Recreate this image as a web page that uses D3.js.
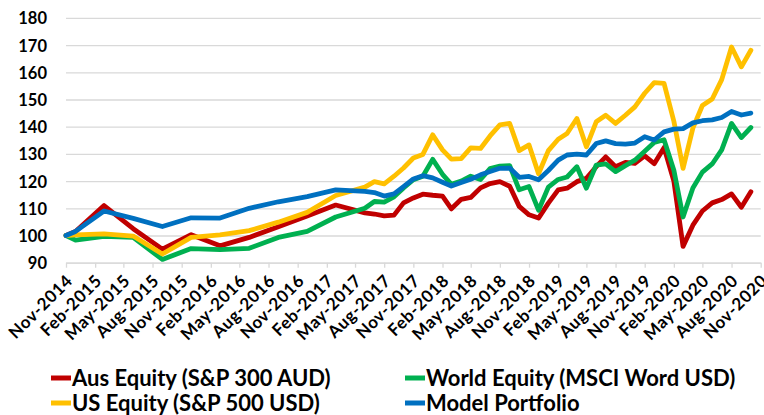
<!doctype html>
<html lang="en">
<head>
	<meta charset="UTF-8">
	<title>Model Portfolio vs Equity Indices</title>
	<script src="https://cdn.jsdelivr.net/npm/d3@7"></script>
	<style type="text/css">
	body{
		margin: 0;
		background: #fff;
	}
	svg text{
		font-family: Lato, 'Open Sans', sans-serif;
		font-weight: bold;
		fill: #000;
	}
	</style>
</head>
<body>
	<script type="text/javascript">
		// quarter ends first, monthly from Jul-2017
		var dates = ["Nov-2014","Dec-2014","Mar-2015","Jun-2015","Sep-2015","Dec-2015","Mar-2016","Jun-2016",
			"Sep-2016","Dec-2016","Mar-2017","Jun-2017","Jul-2017","Aug-2017","Sep-2017","Oct-2017","Nov-2017",
			"Dec-2017","Jan-2018","Feb-2018","Mar-2018","Apr-2018","May-2018","Jun-2018","Jul-2018","Aug-2018",
			"Sep-2018","Oct-2018","Nov-2018","Dec-2018","Jan-2019","Feb-2019","Mar-2019","Apr-2019","May-2019",
			"Jun-2019","Jul-2019","Aug-2019","Sep-2019","Oct-2019","Nov-2019","Dec-2019","Jan-2020","Feb-2020",
			"Mar-2020","Apr-2020","May-2020","Jun-2020","Jul-2020","Aug-2020","Sep-2020","Oct-2020"];
		var ausEquity = [100,101.5,111,102.5,95,100.3,96.2,99.3,103.2,107.2,111.2,108.3,107.9,107.2,107.5,112,113.8,
			115.2,114.8,114.5,109.8,113.3,114,117.5,119.1,119.8,118.1,110.7,107.6,106.4,111.9,116.8,117.4,119.8,121,
			125.3,128.9,125.3,126.9,126.5,129.3,126.4,132.3,120,96,103.8,109,112,113.2,115.3,110.4,116.1];
		var worldEquity = [100,98.3,99.7,99.3,91.2,95.2,94.8,95.3,99.3,101.5,106.8,110,112.5,112.3,114.2,117.5,120.5,
			121.8,128,122.5,118.8,120,121.8,120.6,124.6,125.5,125.7,116.8,118,109.3,117.8,120.6,121.5,125.3,117.4,
			125.9,126.3,123.5,125.7,127.7,131,134.2,135.2,124,106.8,117.5,123.3,126.3,131.5,141.2,136,139.7];
		var usEquity = [100,100.2,100.6,99.8,93.2,99.3,100.2,101.8,104.9,108.5,114.7,117.8,119.8,119,121.8,124.8,128.5,
			129.8,137,131.5,128.1,128.3,132.2,132,136.6,140.7,141.2,131.2,133.3,122.7,131.2,135.4,137.5,143,132.6,
			141.8,144.2,141.2,144.2,147.3,152.3,156.2,155.9,142,124.7,139.5,147.8,150.2,157.3,169.3,162,168.1];
		var modelPortfolio = [100,101.5,109,106.3,103.3,106.5,106.4,110,112.4,114.3,116.8,116.2,115.8,114.5,115.3,118,
			120.8,122,121.2,119.6,118.2,119.5,120.7,122.3,123.5,124.7,124.8,121.4,121.7,120.5,123.9,127.7,129.6,129.9,
			129.6,133.8,134.8,133.8,133.6,134,136.3,135.1,138.1,139.1,139.3,141.4,142.2,142.5,143.4,145.6,144.3,145];

		var seriesNames = ["Aus Equity (S&P 300 AUD)", "World Equity (MSCI Word USD)", "US Equity (S&P 500 USD)", "Model Portfolio"];
		var seriesColors = ["#c00000", "#00b050", "#ffc000", "#0070c0"];
		var yTicks = [90, 100, 110, 120, 130, 140, 150, 160, 170, 180];
		var xTickLabels = ["Nov-2014","Feb-2015","May-2015","Aug-2015","Nov-2015","Feb-2016","May-2016","Aug-2016",
			"Nov-2016","Feb-2017","May-2017","Aug-2017","Nov-2017","Feb-2018","May-2018","Aug-2018","Nov-2018",
			"Feb-2019","May-2019","Aug-2019","Nov-2019","Feb-2020","May-2020","Aug-2020","Nov-2020"];

		var w = 764;
		var h = 415;
		var plotLeft = 66, plotRight = 760.7, plotTop = 17.9, plotBottom = 262.7;
		var parse = d3.utcParse("%b-%Y");

		var svg = d3.select('body')
					.append('svg')
					.attr('width', w)
					.attr('height', h);

		var x = d3.scaleUtc()
				  .domain([parse(xTickLabels[0]), parse(xTickLabels[xTickLabels.length - 1])])
				  .range([plotLeft, plotRight]);
		var y = d3.scaleLinear()
				  .domain([yTicks[0], yTicks[yTicks.length - 1]])
				  .range([plotBottom, plotTop]);

		// gridlines
		svg.append('g')
		   .attr('transform', 'translate(' + plotLeft + ',0)')
		   .call(d3.axisLeft(y).tickValues(yTicks).tickSize(-(plotRight - plotLeft)).tickFormat(''))
		   .call(function(g){
		   		g.select('.domain').remove();
		   		g.selectAll('line').attr('stroke', '#d9d9d9').attr('stroke-width', 1.3);
		   });

		// y labels
		svg.append('g')
		   .attr('transform', 'translate(' + (plotLeft - 19) + ',0)')
		   .call(d3.axisLeft(y).tickValues(yTicks).tickSize(0))
		   .call(function(g){
		   		g.select('.domain').remove();
		   		g.selectAll('text').attr('font-size', '16.5px').attr('x', 0).attr('dy', '0.36em');
		   });

		// x axis
		svg.append('g')
		   .attr('transform', 'translate(0,' + plotBottom + ')')
		   .call(d3.axisBottom(x)
		   		.tickValues(xTickLabels.map(function(d){ return parse(d); }))
		   		.tickFormat(d3.utcFormat('%b-%Y'))
		   		.tickSize(5)
		   		.tickSizeOuter(0))
		   .call(function(g){
		   		g.select('.domain').attr('stroke', '#d9d9d9').attr('stroke-width', 1.3);
		   		g.selectAll('line').attr('stroke', '#d9d9d9').attr('stroke-width', 1.3);
		   		g.selectAll('text')
		   		 .attr('font-size', '17px')
		   		 .attr('letter-spacing', '0.6px')
		   		 .attr('text-anchor', 'end')
		   		 .attr('y', 0)
		   		 .attr('dy', '0.35em')
		   		 .attr('transform', 'translate(3,15) rotate(-45)');
		   });

		var valuesList = [ausEquity, worldEquity, usEquity, modelPortfolio];
		var series = seriesNames.map(function(name, i){
			return {
				name: name,
				color: seriesColors[i],
				points: dates.map(function(d, j){ return {date: parse(d), value: valuesList[i][j]}; })
			};
		});

		var line = d3.line()
					 .x(function(d){ return x(d.date); })
					 .y(function(d){ return y(d.value); });

		svg.selectAll('path.series')
		   .data(series)
		   .enter()
		   .append('path')
		   .attr('class', 'series')
		   .attr('d', function(d){ return line(d.points); })
		   .attr('fill', 'none')
		   .attr('stroke', function(d){ return d.color; })
		   .attr('stroke-width', 4.8)
		   .attr('stroke-linejoin', 'round')
		   .attr('stroke-linecap', 'round');

		// legend, two columns
		var legend = svg.selectAll('g.legend')
						.data(series)
						.enter()
						.append('g')
						.attr('class', 'legend')
						.attr('transform', function(d, i){
							return 'translate(' + [51, 405][i % 2] + ',' + [378, 403][Math.floor(i / 2)] + ')';
						});
		legend.append('line')
			  .attr('x1', 0)
			  .attr('x2', 20)
			  .attr('stroke', function(d){ return d.color; })
			  .attr('stroke-width', 5);
		legend.append('text')
			  .attr('x', 21)
			  .attr('dy', '0.36em')
			  .attr('font-size', '22px')
			  .text(function(d){ return d.name; });
	</script>
</body>
</html>
